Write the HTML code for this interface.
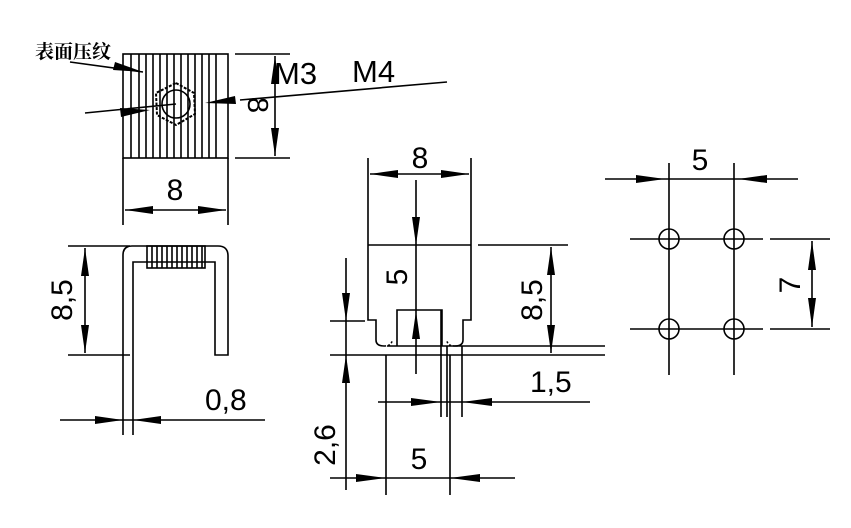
<!DOCTYPE html>
<html><head><meta charset="utf-8"><style>html,body{margin:0;padding:0;background:#fff}svg{display:block}</style></head>
<body>
<svg width="851" height="528" viewBox="0 0 851 528" xmlns="http://www.w3.org/2000/svg">
<g stroke="#000" stroke-width="1.6" fill="none">
<!-- top view -->
<rect x="123" y="54" width="105" height="104"/>
<path d="M131 54V158M139 54V158M146 54V158M153 54V158M160 54V158M167 54V158M174 54V158M181 54V158M188 54V158M195 54V158M202 54V158M209 54V158M216 54V158"/>
<circle cx="176" cy="104" r="14"/>
<polygon points="176,83 194,93 195,114 176,125 157,115 156,93" stroke-dasharray="3,1.5" stroke-width="2"/>
<path d="M235 54H290M235 158H290M275 56V156"/>
<path d="M85 113L176 104M240 100L447 82"/>
<path d="M70 62L143 72"/>
<path d="M123 158V225M228 158V225M125 210H226"/>
<!-- side view -->
<path d="M68 246H130M68 355H130M85 248V353"/>
<path d="M123 435V255Q123 246 132 246H218Q228 246 228 256V355H215V262H133V435"/>
<rect x="147" y="246" width="58" height="22"/>
<path d="M152 246V268M157 246V268M162 246V268M167 246V268M172 246V268M177 246V268M182 246V268M187 246V268M192 246V268M197 246V268M202 246V268"/>
<path d="M60 420H265"/>
<!-- middle view -->
<path d="M368 158V245M471 158V245M370 174H469"/>
<path d="M368 245H471M478 245H568M368 245V320H376V340Q376 346 384 346M471 245V320H463V340Q463 346 455 346"/>
<path d="M384 346Q392 346 392 340M455 346Q447 346 447 340" stroke-dasharray="2,2"/>
<path d="M397 346V310H442V346"/>
<path d="M416 180V374"/>
<path d="M387 346H605M330 355H605M330 321H365"/>
<path d="M346 258V490"/>
<path d="M551 247V353"/>
<path d="M441 310V417M447 346V417M462 346V417M378 402H590"/>
<path d="M386 355V495M450 355V495M330 478H515"/>
<!-- right view -->
<path d="M669 163V375M734 163V375M630 239H763M630 329H763M770 239H830M770 329H830M812 241V327M605 179H798"/>
<circle cx="669" cy="239" r="10"/>
<circle cx="734" cy="239" r="10"/>
<circle cx="669" cy="329" r="10"/>
<circle cx="734" cy="329" r="10"/>
</g>
<g fill="#000">
<polygon points="143,72 115,62 113,70"/>
<polygon points="150,110 120,108 121,117"/>
<polygon points="205,103 235,96 236,104"/>
<polygon points="275,56 271,84 279,84"/>
<polygon points="275,156 271,128 279,128"/>
<polygon points="125,210 153,206 153,214"/>
<polygon points="226,210 198,206 198,214"/>
<polygon points="85,248 81,276 89,276"/>
<polygon points="85,353 81,325 89,325"/>
<polygon points="123,420 95,416 95,424"/>
<polygon points="133,420 161,416 161,424"/>
<polygon points="370,174 398,170 398,178"/>
<polygon points="469,174 441,170 441,178"/>
<polygon points="416,245 412,217 420,217"/>
<polygon points="416,311 412,339 420,339"/>
<polygon points="346,321 342,293 350,293"/>
<polygon points="346,355 342,383 350,383"/>
<polygon points="551,247 547,275 555,275"/>
<polygon points="551,353 547,325 555,325"/>
<polygon points="441,402 411,398 411,406"/>
<polygon points="462,402 492,398 492,406"/>
<polygon points="386,478 356,474 356,482"/>
<polygon points="450,478 480,474 480,482"/>
<polygon points="665,179 636,175 636,183"/>
<polygon points="738,179 767,175 767,183"/>
<polygon points="812,241 808,270 816,270"/>
<polygon points="812,327 808,298 816,298"/>
</g>
<g font-family="Liberation Sans, sans-serif" font-size="30" fill="#000">
<text x="35" y="58" font-family="Liberation Serif, Noto Serif CJK SC, serif" font-size="19" font-weight="bold">表面压纹</text>
<text x="274" y="84" font-size="31">M3</text>
<text x="352" y="82" font-size="31">M4</text>
<text transform="translate(248,105) rotate(90)" text-anchor="middle" font-size="29">8</text>
<text x="175" y="200" text-anchor="middle">8</text>
<text transform="translate(72,300) rotate(-90)" text-anchor="middle">8,5</text>
<text x="205" y="410">0,8</text>
<text x="420" y="168" text-anchor="middle">8</text>
<text transform="translate(407,277) rotate(-90)" text-anchor="middle">5</text>
<text transform="translate(542,300) rotate(-90)" text-anchor="middle">8,5</text>
<text x="530" y="392">1,5</text>
<text transform="translate(335,445) rotate(-90)" text-anchor="middle">2,6</text>
<text x="419" y="469" text-anchor="middle">5</text>
<text x="700" y="170" text-anchor="middle">5</text>
<text transform="translate(800,285) rotate(-90)" text-anchor="middle">7</text>
</g>
</svg>
</body></html>
